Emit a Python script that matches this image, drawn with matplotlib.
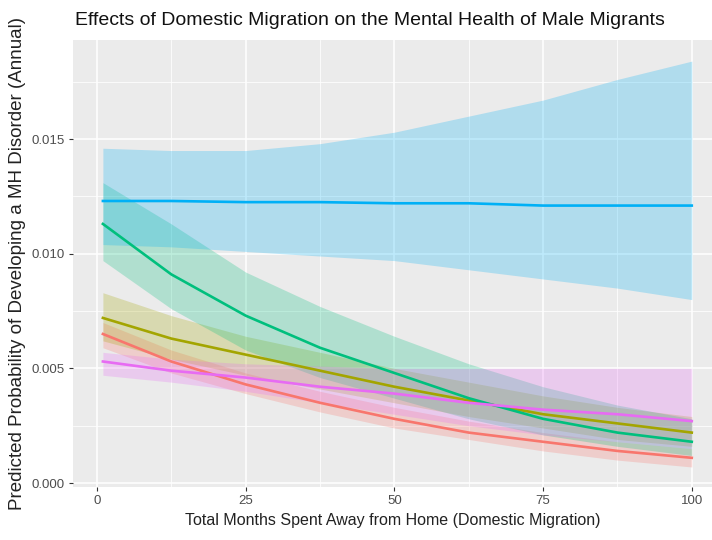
import numpy as np
import matplotlib.pyplot as plt
from matplotlib.ticker import MultipleLocator

plt.rcParams['font.family'] = ['Liberation Sans', 'DejaVu Sans']

months = [1, 12.5, 25, 37.5, 50, 62.5, 75, 87.5, 100]

# Predicted probability (fit) and ribbon bounds for each group
red_fit = [0.0065, 0.0053, 0.0043, 0.0035, 0.0028, 0.0022, 0.0018, 0.0014, 0.0011]
red_hi = [0.0070, 0.0058, 0.0048, 0.0040, 0.0033, 0.0027, 0.0022, 0.0018, 0.0015]
red_lo = [0.0059, 0.0048, 0.0039, 0.0031, 0.0024, 0.0019, 0.0014, 0.0010, 0.0007]

olive_fit = [0.0072, 0.0063, 0.0056, 0.0049, 0.0042, 0.0036, 0.0030, 0.0026, 0.0022]
olive_hi = [0.0083, 0.0073, 0.0064, 0.0057, 0.0050, 0.0044, 0.0038, 0.0033, 0.0029]
olive_lo = [0.0062, 0.0054, 0.0047, 0.0041, 0.0035, 0.0029, 0.0024, 0.0019, 0.0016]

green_fit = [0.0113, 0.0091, 0.0073, 0.0059, 0.0048, 0.0037, 0.0028, 0.0022, 0.0018]
green_hi = [0.0131, 0.0113, 0.0092, 0.0077, 0.0064, 0.0052, 0.0042, 0.0034, 0.0028]
green_lo = [0.0097, 0.0076, 0.0058, 0.0046, 0.0037, 0.0028, 0.0021, 0.0016, 0.0012]

blue_fit = [0.0123, 0.0123, 0.01225, 0.01225, 0.0122, 0.0122, 0.0121, 0.0121, 0.0121]
blue_hi = [0.0146, 0.0145, 0.0145, 0.0148, 0.0153, 0.0160, 0.0167, 0.0176, 0.0184]
blue_lo = [0.0104, 0.0103, 0.0101, 0.0099, 0.0097, 0.0093, 0.0089, 0.0085, 0.0080]

pink_fit = [0.0053, 0.0049, 0.0046, 0.0042, 0.0039, 0.0035, 0.0032, 0.0030, 0.0027]
pink_hi = [0.0057, 0.0054, 0.0052, 0.0051, 0.0050, 0.0050, 0.0050, 0.0050, 0.0050]
pink_lo = [0.0047, 0.0044, 0.0040, 0.0035, 0.0030, 0.0025, 0.0021, 0.0018, 0.0015]

groups = [
    (red_fit, red_lo, red_hi, '#F8766D'),
    (olive_fit, olive_lo, olive_hi, '#A3A500'),
    (green_fit, green_lo, green_hi, '#00BF7D'),
    (blue_fit, blue_lo, blue_hi, '#00B0F6'),
    (pink_fit, pink_lo, pink_hi, '#E76BF3'),
]

fig = plt.figure(figsize=(7.12, 5.4), dpi=100)
ax = fig.add_axes([0.1025, 0.0981, 0.8975, 0.8278])
ax.set_facecolor('#EBEBEB')

# ribbons first, then lines on top
for fit, lo, hi, col in groups:
    ax.fill_between(months, lo, hi, color=col, alpha=0.25, linewidth=0, zorder=2)
for fit, lo, hi, col in groups:
    ax.plot(months, fit, color=col, lw=1.9, zorder=3)

ax.set_xlim(-4.03, 103.4)
ax.set_ylim(-0.000174, 0.01932)
ax.xaxis.set_major_locator(MultipleLocator(25))
ax.xaxis.set_minor_locator(MultipleLocator(12.5))
ax.yaxis.set_major_locator(MultipleLocator(0.005))
ax.yaxis.set_minor_locator(MultipleLocator(0.0025))
ax.yaxis.set_major_formatter(plt.FuncFormatter(lambda v, p: '{:.3f}'.format(v)))

ax.grid(which='major', color='white', lw=1.1, zorder=0)
ax.grid(which='minor', color='white', lw=0.55, zorder=0)
ax.set_axisbelow(True)
for s in ax.spines.values():
    s.set_visible(False)

ax.tick_params(which='major', length=3, width=0.8, color='#333333',
               labelcolor='#4D4D4D', labelsize=9.5, pad=3)
ax.tick_params(which='minor', length=0)

ax.set_xlabel('Total Months Spent Away from Home (Domestic Migration)',
              fontsize=11.5, color='#222222', labelpad=4)
ax.set_ylabel('Predicted Probability of Developing a MH Disorder (Annual)',
              fontsize=13.5, color='#222222', labelpad=4)
fig.text(0.105, 0.962, 'Effects of Domestic Migration on the Mental Health of Male Migrants',
         fontsize=14, color='#111111', va='center', ha='left')

fig.savefig('out.png', dpi=100)
